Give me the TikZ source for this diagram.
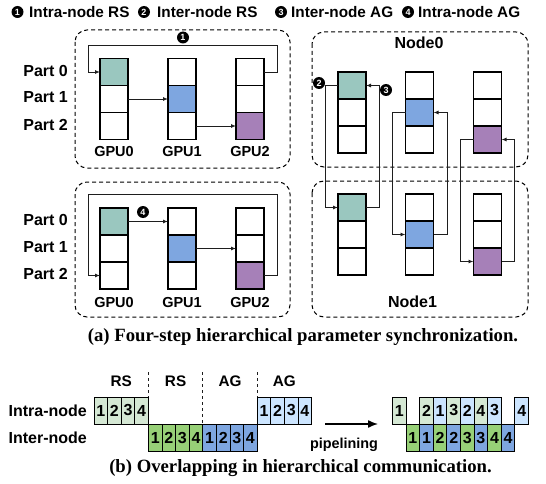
\documentclass[tikz,border=0pt]{standalone}
\usepackage{fontspec}
\setmainfont{Liberation Serif}
\newfontfamily\hv{Liberation Sans}
\usetikzlibrary{arrows.meta}
\definecolor{cteal}{HTML}{9AC7BF}
\definecolor{cblue}{HTML}{7EA6E0}
\definecolor{cpurple}{HTML}{A680B8}
\definecolor{clgreen}{HTML}{D5E8D4}
\definecolor{cgreen}{HTML}{97D077}
\definecolor{clblue}{HTML}{CCE5FF}
\definecolor{cline}{HTML}{1E1E1E}
\begin{document}
\begin{tikzpicture}[x=1pt,y=-1pt,
  cell/.style={draw=black, line width=1.2pt, minimum width=28pt, minimum height=27pt, inner sep=0pt, outer sep=0pt},
  lbl/.style={font=\hv\bfseries\fontsize{16}{18}\selectfont, inner sep=0pt},
  leg/.style={font=\hv\bfseries\fontsize{15.3}{17}\selectfont, inner sep=0pt},
  gpu/.style={font=\hv\bfseries\fontsize{14.5}{16}\selectfont, inner sep=0pt},
  mk/.style={circle, fill=black, text=white, inner sep=0pt, minimum size=12pt, font=\hv\bfseries\fontsize{9}{9}\selectfont},
  conn/.style={draw=cline, line width=0.9pt},
  arr/.style={conn, -{Latex[length=5pt,width=4pt]}},
  grp/.style={draw=black, dash pattern=on 4pt off 3pt, line width=1pt, rounded corners=12pt},
  bc/.style={draw=black, line width=0.9pt, minimum width=13.6pt, minimum height=27pt, inner sep=0pt, outer sep=0pt, font=\hv\bfseries\fontsize{16}{16}\selectfont},
  sepline/.style={draw=cline, dash pattern=on 3pt off 3pt, line width=0.9pt},
  captxt/.style={font=\bfseries\fontsize{18.7}{21}\selectfont, inner sep=0pt}]
\useasboundingbox (0,0) rectangle (546,484);

% ---------- legend ----------
\foreach \n/\x/\tx/\t in {1/17.5/29/Intra-node RS, 2/144/157/Inter-node RS, 3/281/291/Inter-node AG, 4/408/418/Intra-node AG}{
  \node[mk] (lg\n) at (\x,12) {\n};
  \node[leg, anchor=west] (lgt\n) at (\tx,12) {\t};
}

% ---------- dashed groups ----------
\draw[grp] (75,30) rectangle (290,168);
\draw[grp] (75,182) rectangle (290,317);
\draw[grp] (312,32) rectangle (528,167);
\draw[grp] (312,181) rectangle (528,317);

% ---------- buffers: panel A, B (left), N (Node0), M (Node1) ----------
\foreach \p/\xa/\xb/\xc/\yt in {A/114/182/250/58.5, B/114/182/250/208, N/352/419.5/487.5/72, M/352/419.5/487.5/194}{
  \foreach \c/\x/\h/\col in {a/\xa/0/cteal, b/\xb/1/cblue, c/\xc/2/cpurple}{
    \foreach \r in {0,1,2}{
      \pgfmathsetmacro\yy{\yt+13.5+27*\r}
      \ifnum\r=\h
        \node[cell, fill=\col] (\p\c\r) at (\x,\yy) {};
      \else
        \node[cell] (\p\c\r) at (\x,\yy) {};
      \fi
    }
  }
}

% ---------- labels ----------
\foreach \p/\y in {A/0, B/149.5}{
  \foreach \r in {0,1,2}{
    \node[lbl, anchor=east] (part\p\r) at (68,{70.5+\y+27*\r}) {Part \r};
  }
}
\foreach \c/\x/\i in {a/114/0, b/182/1, c/250/2}{
  \node[gpu] (gA\c) at (\x,152) {GPU\i};
  \node[gpu] (gB\c) at (\x,303) {GPU\i};
}
\node[lbl] (node0) at (419,43) {Node0};
\node[lbl] (node1) at (412.5,302) {Node1};

% ---------- step 1: intra-node reduce-scatter ----------
\draw[arr] (Ac0.east) -- ++(13,0) -- ++(0,-26.5) -| ([xshift=-12pt]Aa0.west) -- (Aa0.west);
\draw[arr] (Aa1.east) -- (Ab1.west);
\draw[arr] (Ab2.east) -- (Ac2.west);
\node[mk] (m1) at (183,37.5) {1};

% ---------- step 4: intra-node all-gather ----------
\draw[arr] (Bc2.east) -- ++(13,0) -- ++(0,-81.5) -| ([xshift=-12pt]Ba2.west) -- (Ba2.west);
\draw[arr] (Ba0.east) -- (Bb0.west);
\draw[arr] (Bb1.east) -- (Bc1.west);
\node[mk] (m4) at (143,212) {4};

% ---------- steps 2 and 3: inter-node ----------
\draw[arr] (Na0.west) -- ++(-13,0) |- (Ma0.west);
\draw[arr] (Ma0.east) -- ++(13,0) |- (Na0.east);
\draw[arr] (Nb1.west) -- ++(-13,0) |- (Mb1.west);
\draw[arr] (Mb1.east) -- ++(14,0) |- (Nb1.east);
\draw[arr] (Nc2.west) -- ++(-13,0) |- (Mc2.west);
\draw[arr] (Mc2.east) -- ++(13,0) |- (Nc2.east);
\node[mk] (m2) at (319,83) {2};
\node[mk] (m3) at (386,90) {3};

\node[captxt] (capa) at (303,337) {(a) Four-step hierarchical parameter synchronization.};

% ---------- (b) sequential phases ----------
\foreach \x in {148.4, 202.8, 257.2}{
  \draw[sepline] (\x,372) -- (\x,424);
}
\foreach \t/\x in {RS/121.2, RS/175.6, AG/230, AG/284.4}{
  \node[leg] at (\x,381) {\t};
}
\node[lbl, anchor=east] (intra) at (87,410.5) {Intra-node};
\node[lbl, anchor=east] (inter) at (87,437.5) {Inter-node};
\foreach \i in {1,2,3,4}{
  \node[bc, fill=clgreen] (s1\i) at ({94+6.8+13.6*(\i-1)},410.5) {\i};
  \node[bc, fill=cgreen]  (s2\i) at ({94+6.8+13.6*(\i+3)},437.5) {\i};
  \node[bc, fill=cblue]   (s3\i) at ({94+6.8+13.6*(\i+7)},437.5) {\i};
  \node[bc, fill=clblue]  (s4\i) at ({94+6.8+13.6*(\i+11)},410.5) {\i};
}

% ---------- (b) pipelined ----------
\coordinate (pa) at (325,424);
\coordinate (pb) at (378,424);
\draw[draw=black, line width=1.4pt, -{Latex[length=10pt,width=8pt]}] (pa) -- (pb);
\node[lbl, font=\hv\bfseries\fontsize{14.4}{16}\selectfont] (pipe) at (344,445) {pipelining};
\foreach \k/\col/\t in {0/clgreen/1, 2/clgreen/2, 3/clblue/1, 4/clgreen/3, 5/clblue/2, 6/clgreen/4, 7/clblue/3, 9/clblue/4}{
  \node[bc, fill=\col] (pt\k) at ({392.5+6.8+13.6*\k},410.5) {\t};
}
\foreach \k/\col/\t in {1/cgreen/1, 2/cblue/1, 3/cgreen/2, 4/cblue/2, 5/cgreen/3, 6/cblue/3, 7/cgreen/4, 8/cblue/4}{
  \node[bc, fill=\col] (pl\k) at ({392.5+6.8+13.6*\k},437.5) {\t};
}

\node[captxt] (capb) at (300.5,468) {(b) Overlapping in hierarchical communication.};
\end{tikzpicture}
\end{document}
